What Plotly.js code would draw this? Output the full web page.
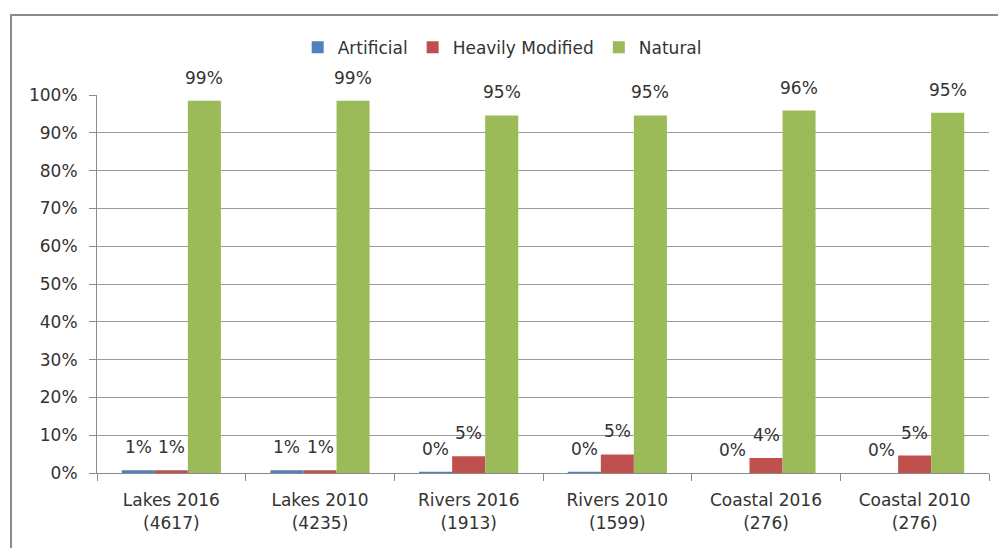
<!DOCTYPE html>
<html>
<head>
<meta charset="utf-8">
<script src="https://cdn.plot.ly/plotly-3.0.1.min.js"></script>
<style>
  body { margin: 0; background: #fff; }
  #frame { position: absolute; left: 10px; top: 14px; width: 990px; height: 545px; border: 2px solid #8a8a8a; box-sizing: border-box; pointer-events: none; }
  #chart { width: 998px; height: 548px; }
</style>
</head>
<body>
<div id="chart"></div>
<div id="frame"></div>
<script>
// categories (water body type, year, number of sites)
var categories = ["Lakes 2016<br>(4617)", "Lakes 2010<br>(4235)", "Rivers 2016<br>(1913)",
                  "Rivers 2010<br>(1599)", "Coastal 2016<br>(276)", "Coastal 2010<br>(276)"];

// share of each class
var artificial = [0.007, 0.007, 0.003, 0.003, 0, 0];
var heavilyModified = [0.007, 0.007, 0.044, 0.049, 0.040, 0.046];
var natural = [0.985, 0.985, 0.946, 0.946, 0.959, 0.953];

// data labels as printed on the chart
var artificialLabels = ["1%", "1%", "0%", "0%", "0%", "0%"];
var heavilyModifiedLabels = ["1%", "1%", "5%", "5%", "4%", "5%"];
var naturalLabels = ["99%", "99%", "95%", "95%", "96%", "95%"];

var seriesNames = ["Artificial", "Heavily Modified", "Natural"];
var seriesColors = ["#4F81BD", "#C0504D", "#9BBB59"];
var seriesValues = [artificial, heavilyModified, natural];
var seriesLabels = [artificialLabels, heavilyModifiedLabels, naturalLabels];

var labelFont = {family: "DejaVu Sans", size: 17, color: "#333"};

var data = seriesNames.map(function(name, i) {
  return {
    x: categories,
    y: seriesValues[i],
    name: name,
    type: "bar",
    marker: {color: seriesColors[i]},
    hoverinfo: "none"
  };
});

// plot area is 892px wide, 6 categories, bars fill 2/3 of each slot
var barPx = 892 / categories.length * (1 - 0.333) / 3;

// data labels sit a little above the end of each bar, like Excel "outside end"
var annotations = [];
seriesValues.forEach(function(values, i) {
  values.forEach(function(v, j) {
    annotations.push({
      x: categories[j],
      y: v,
      xref: "x",
      yref: "y",
      text: seriesLabels[i][j],
      showarrow: false,
      xshift: (i - 1) * barPx,
      yshift: 11,
      yanchor: "bottom",
      font: labelFont
    });
  });
});

var layout = {
  width: 998,
  height: 548,
  margin: {l: 97, r: 9, t: 95, b: 75},
  paper_bgcolor: "#fff",
  plot_bgcolor: "#fff",
  barmode: "group",
  bargap: 0.333,
  bargroupgap: 0,
  font: labelFont,
  showlegend: true,
  legend: {
    orientation: "h",
    x: 0.225, xanchor: "left",
    y: 1.125, yanchor: "middle",
    font: labelFont,
    itemwidth: 30,
    tracegroupgap: 0
  },
  annotations: annotations,
  xaxis: {
    type: "category",
    tickson: "boundaries",
    ticks: "outside",
    ticklen: 7,
    tickcolor: "#8a8a8a",
    showline: true,
    linecolor: "#8a8a8a",
    showgrid: false,
    ticklabelstandoff: 12,
    tickfont: labelFont,
    fixedrange: true
  },
  yaxis: {
    range: [0, 1],
    dtick: 0.1,
    tickformat: ".0%",
    ticks: "outside",
    ticklen: 7,
    tickcolor: "#8a8a8a",
    showline: true,
    linecolor: "#8a8a8a",
    showgrid: true,
    gridcolor: "#9a9a9a",
    zeroline: false,
    ticklabelstandoff: 8,
    tickfont: labelFont,
    fixedrange: true
  }
};

Plotly.newPlot("chart", data, layout, {displayModeBar: false, staticPlot: true});
</script>
</body>
</html>
